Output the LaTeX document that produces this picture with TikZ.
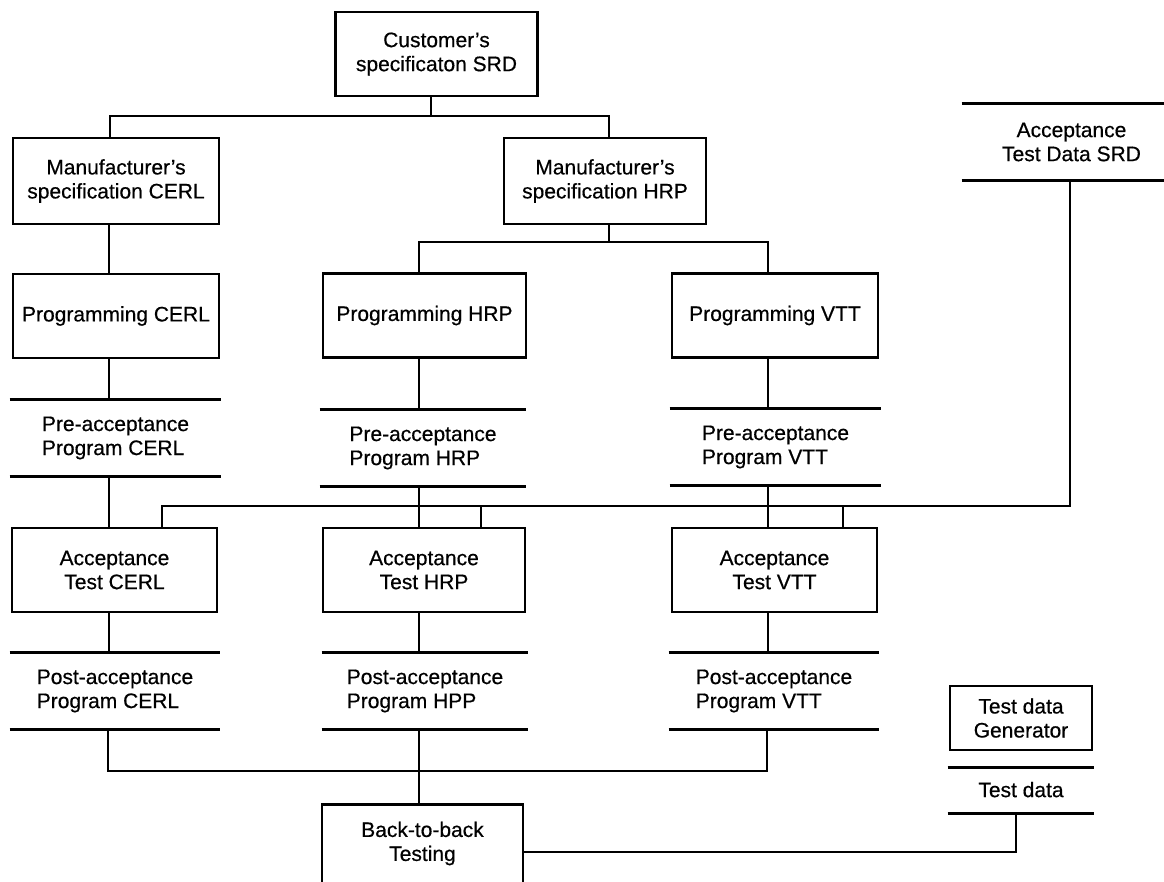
\documentclass[tikz,border=0pt]{standalone}
\usepackage{fontspec}
\setmainfont{Liberation Sans}[FakeBold=0.5]
\newcommand{\dlabelfont}{\fontsize{21}{24}\selectfont}
\begin{document}
\begin{tikzpicture}[x=1pt,y=-1pt,line width=2.9pt,line join=miter,
  box/.style={draw,rectangle,inner sep=0pt,align=center,font=\dlabelfont},
  store/.style={rectangle,inner sep=0pt,align=left,font=\dlabelfont}]
\useasboundingbox (0,0) rectangle (1164,882);
\clip (0,0) rectangle (1164,882);
% boxes
\node[box,minimum width=202pt,minimum height=84pt] (cust) at (436.5,54) {Customer’s\\specificaton SRD};
\node[box,minimum width=206pt,minimum height=86pt] (mC) at (116,181) {Manufacturer’s\\specification CERL};
\node[box,minimum width=202pt,minimum height=86pt] (mH) at (605,181) {Manufacturer’s\\specification HRP};
\node[box,minimum width=206pt,minimum height=84pt] (pC) at (116,316) {Programming CERL};
\node[box,minimum width=203pt,minimum height=84pt] (pH) at (424.5,315.5) {Programming HRP};
\node[box,minimum width=206pt,minimum height=84pt] (pV) at (775,315.5) {Programming VTT};
\node[store,minimum width=209pt,minimum height=74pt] (preC) at (115.5,438) {Pre-acceptance\\Program CERL};
\node[store,minimum width=204pt,minimum height=74pt] (preH) at (423,448) {Pre-acceptance\\Program HRP};
\node[store,minimum width=209pt,minimum height=74pt] (preV) at (775.5,447) {Pre-acceptance\\Program VTT};
\node[store,align=center,minimum width=217pt,minimum height=74pt] (srd) at (1071.5,142) {Acceptance\\Test Data SRD};
\node[box,minimum width=205pt,minimum height=84pt] (aC) at (114.5,570) {Acceptance\\Test CERL};
\node[box,minimum width=202pt,minimum height=84pt] (aH) at (424,570) {Acceptance\\Test HRP};
\node[box,minimum width=205pt,minimum height=84pt] (aV) at (774.5,570) {Acceptance\\Test VTT};
\node[store,minimum width=208pt,minimum height=74pt] (postC) at (115,691) {Post-acceptance\\Program CERL};
\node[store,minimum width=204pt,minimum height=74pt] (postH) at (425,691) {Post-acceptance\\Program HPP};
\node[store,minimum width=208pt,minimum height=74pt] (postV) at (774,691) {Post-acceptance\\Program VTT};
\node[box,minimum width=142pt,minimum height=64pt] (gen) at (1021,718) {Test data\\Generator};
\node[store,minimum width=144pt,minimum height=43pt,text depth=2pt] (td) at (1021,790.5) {Test data};
\node[box,minimum width=201pt,minimum height=160pt,anchor=north] (btb) at (422.5,803) {};
\node[align=center,font=\dlabelfont,inner sep=0pt] (btbt) at (422.5,843.5) {Back-to-back\\Testing};
% store lines
\foreach \n in {preC,preH,preV,srd,postC,postH,postV,td}{
  \draw (\n.north west) -- (\n.north east) (\n.south west) -- (\n.south east);
}
% connectors
\coordinate (b1L) at (110,116);
\coordinate (b1M) at (431,116);
\coordinate (b1R) at (609,116);
\coordinate (colC) at (109,0);
\coordinate (b2L) at (419,242);
\coordinate (b2M) at (609,242);
\coordinate (b2R) at (768,242);
\coordinate (b3L) at (162,506);
\coordinate (b3H) at (481,506);
\coordinate (b3V) at (843,506);
\coordinate (b3R) at (1070,506);
\coordinate (b4L) at (108,771);
\coordinate (b4M) at (419,771);
\coordinate (b4R) at (767,771);
\coordinate (tc) at (1016,852);
\draw (cust.south -| b1M) -- (b1M);
\draw (mC.north -| b1L) -- (b1L) -- (b1R) -- (mH.north -| b1R);
\draw (mC.south -| colC) -- (pC.north -| colC);
\draw (mH.south -| b2M) -- (b2M);
\draw (pH.north -| b2L) -- (b2L) -- (b2R) -- (pV.north -| b2R);
\draw (pC.south -| colC) -- (preC.north -| colC);
\draw (pH.south -| b2L) -- (preH.north -| b2L);
\draw (pV.south -| b2R) -- (preV.north -| b2R);
\draw (preC.south -| colC) -- (aC.north -| colC);
\draw (preH.south -| b2L) -- (aH.north -| b2L);
\draw (preV.south -| b2R) -- (aV.north -| b2R);
\draw (aC.north -| b3L) -- (b3L) -- (b3R) -- (srd.south -| b3R);
\draw (b3H) -- (aH.north -| b3H);
\draw (b3V) -- (aV.north -| b3V);
\draw (aC.south -| colC) -- (postC.north -| colC);
\draw (aH.south -| b2L) -- (postH.north -| b2L);
\draw (aV.south -| b2R) -- (postV.north -| b2R);
\draw (postC.south -| b4L) -- (b4L) -- (b4R) -- (postV.south -| b4R);
\draw (postH.south -| b4M) -- (btb.north -| b4M);
\draw (btb.east |- tc) -- (tc) -- (td.south -| tc);
\end{tikzpicture}
\end{document}
